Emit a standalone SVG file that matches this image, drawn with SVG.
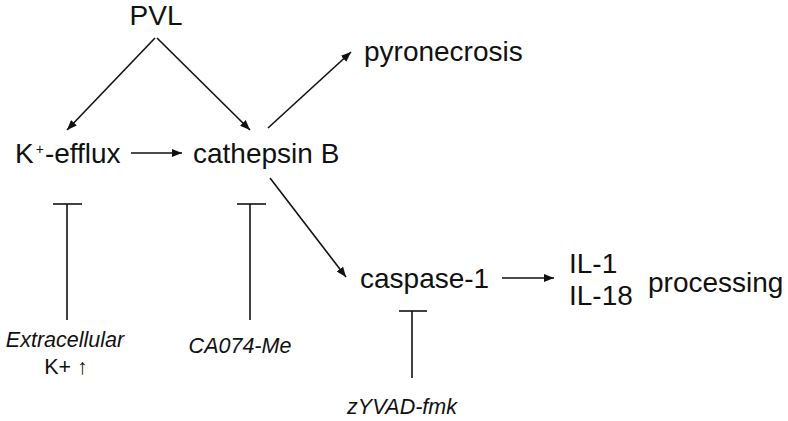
<svg xmlns="http://www.w3.org/2000/svg" width="788" height="421" viewBox="0 0 788 421">
<style>
.t{font-family:"Liberation Sans",Arial,sans-serif;font-size:28px;fill:#111}
.i{font-family:"Liberation Sans",Arial,sans-serif;font-size:21.5px;font-style:italic;fill:#111}
.s{font-family:"Liberation Sans",Arial,sans-serif;font-size:21.5px;fill:#111}
.c{stroke:#111;stroke-width:1.6;fill:none}
.a{marker-end:url(#ah)}
</style>
<defs>
<marker id="ah" viewBox="0 0 10 8" refX="10" refY="4" markerWidth="10" markerHeight="8" markerUnits="userSpaceOnUse" orient="auto">
<path d="M0,0 L10,4 L0,8 Z" fill="#111"/>
</marker>
</defs>
<rect width="788" height="421" fill="#fff"/>
<g id="connectors">
<line class="c a" x1="155" y1="38" x2="67" y2="130"/>
<line class="c a" x1="157" y1="38" x2="250" y2="130"/>
<line class="c a" x1="131" y1="153" x2="182" y2="153"/>
<line class="c a" x1="268" y1="128" x2="351" y2="52"/>
<line class="c a" x1="270" y1="178" x2="346" y2="277"/>
<line class="c a" x1="502" y1="278" x2="554" y2="278"/>
<g id="inh-k">
<line class="c" x1="53" y1="204" x2="82" y2="204"/>
<line class="c" x1="67" y1="204" x2="67" y2="320"/>
</g>
<g id="inh-ca">
<line class="c" x1="237" y1="204" x2="266" y2="204"/>
<line class="c" x1="250" y1="204" x2="250" y2="320"/>
</g>
<g id="inh-z">
<line class="c" x1="399" y1="311" x2="427" y2="311"/>
<line class="c" x1="412" y1="311" x2="412" y2="378"/>
</g>
</g>
<g id="pvl"><text class="t" x="156" y="25" text-anchor="middle">PVL</text></g>
<g id="kefflux"><text class="t" x="15" y="163">K<tspan font-size="14" dx="2" dy="-9">+</tspan><tspan dx="1" dy="9">-efflux</tspan></text></g>
<g id="cathepsin"><text class="t" x="193" y="163">cathepsin B</text></g>
<g id="pyronecrosis"><text class="t" x="364" y="61">pyronecrosis</text></g>
<g id="caspase"><text class="t" x="360" y="288">caspase-1</text></g>
<g id="il"><text class="t" x="569" y="273">IL-1</text><text class="t" x="569" y="305">IL-18</text></g>
<g id="processing"><text class="t" x="648" y="292">processing</text></g>
<g id="extracellular"><text class="i" x="65" y="347" text-anchor="middle">Extracellular</text><text class="s" x="66" y="374" text-anchor="middle">K+ ↑</text></g>
<g id="ca074"><text class="i" x="240" y="353" text-anchor="middle">CA074-Me</text></g>
<g id="zyvad"><text class="i" x="402" y="414" text-anchor="middle">zYVAD-fmk</text></g>
</svg>
